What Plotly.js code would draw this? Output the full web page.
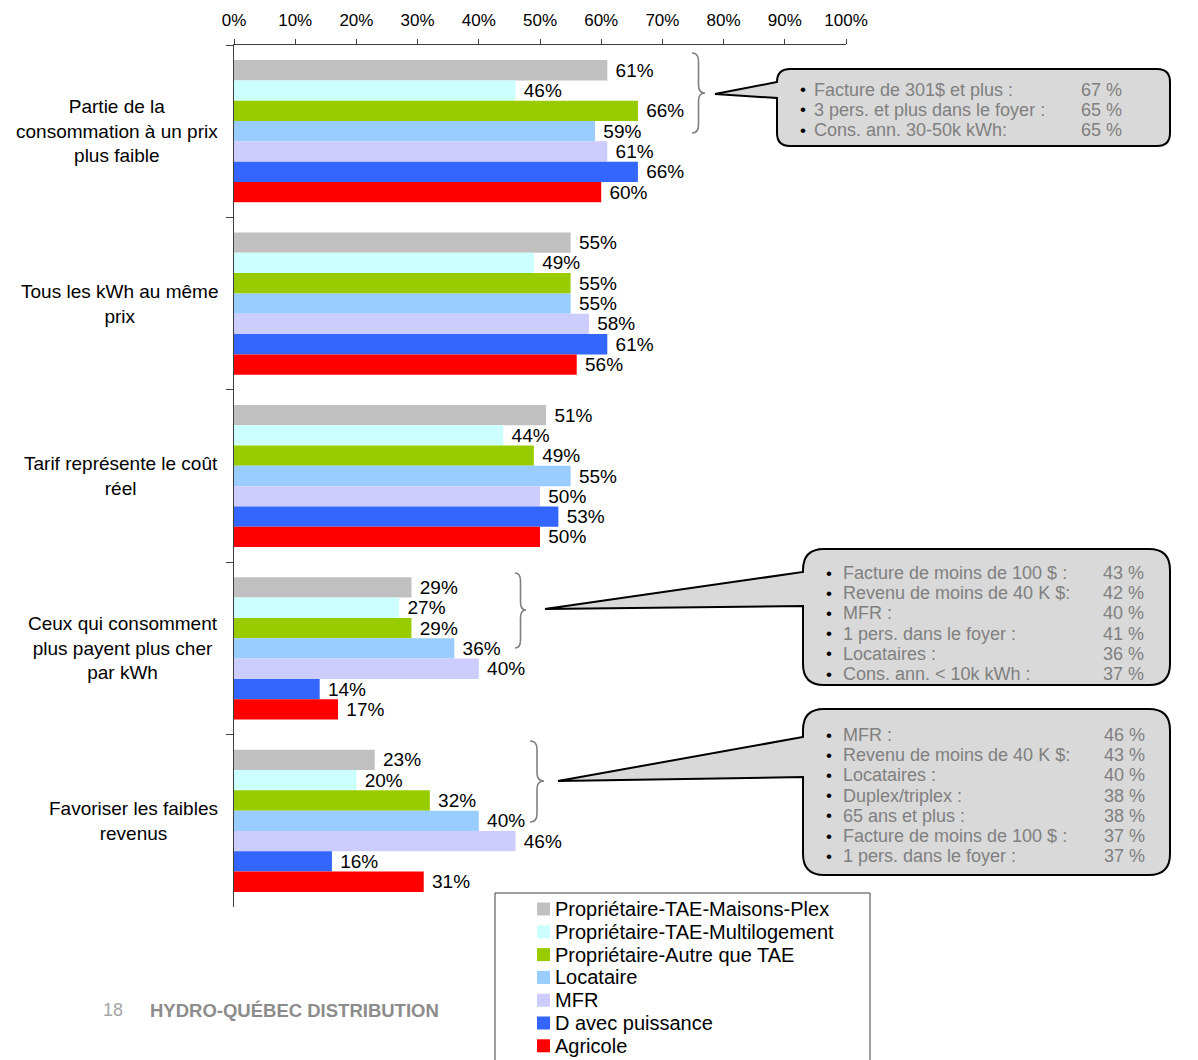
<!DOCTYPE html>
<html>
<head>
<meta charset="utf-8">
<script src="https://cdn.plot.ly/plotly-3.0.1.min.js"></script>
<style>
  html, body { margin: 0; padding: 0; background: #ffffff; }
  #chart { width: 1198px; height: 1060px; }
</style>
</head>
<body>
<div id="chart"></div>
<script>
// Survey answers, share of respondents per customer group
const categories = [
  "Partie de la consommation à un prix plus faible",
  "Tous les kWh au même prix",
  "Tarif représente le coût réel",
  "Ceux qui consomment plus payent plus cher par kWh",
  "Favoriser les faibles revenus"
];
const categoryLabels = [
  "Partie de la<br>consommation à un prix<br>plus faible",
  "Tous les kWh au même<br>prix",
  "Tarif représente le coût<br>réel",
  "Ceux qui consomment<br>plus payent plus cher<br>par kWh",
  "Favoriser les faibles<br>revenus"
];
const seriesNames = [
  "Propriétaire-TAE-Maisons-Plex",
  "Propriétaire-TAE-Multilogement",
  "Propriétaire-Autre que TAE",
  "Locataire",
  "MFR",
  "D avec puissance",
  "Agricole"
];
const maisonsPlex   = [61, 55, 51, 29, 23];
const multilogement = [46, 49, 44, 27, 20];
const autreQueTae   = [66, 55, 49, 29, 32];
const locataire     = [59, 55, 55, 36, 40];
const mfr           = [61, 58, 50, 40, 46];
const dPuissance    = [66, 61, 53, 14, 16];
const agricole      = [60, 56, 50, 17, 31];
const seriesValues = [maisonsPlex, multilogement, autreQueTae, locataire, mfr, dPuissance, agricole];
const seriesColors = ["#C0C0C0", "#CCFFFF", "#99CC00", "#99CCFF", "#CCCCFF", "#3366FF", "#FF0000"];

const xTicks = [0, 10, 20, 30, 40, 50, 60, 70, 80, 90, 100];

// Side notes: sub-groups with the highest agreement
const note1Labels = ["Facture de 301$ et plus :", "3 pers. et plus dans le foyer :", "Cons. ann. 30-50k kWh:"];
const note1Values = ["67 %", "65 %", "65 %"];
const note2Labels = ["Facture de moins de 100 $ :", "Revenu de moins de 40 K $:", "MFR :", "1 pers. dans le foyer :", "Locataires :", "Cons. ann. < 10k kWh :"];
const note2Values = ["43 %", "42 %", "40 %", "41 %", "36 %", "37 %"];
const note3Labels = ["MFR :", "Revenu de moins de 40 K $:", "Locataires :", "Duplex/triplex :", "65 ans et plus :", "Facture de moins de 100 $ :", "1 pers. dans le foyer :"];
const note3Values = ["46 %", "43 %", "40 %", "38 %", "38 %", "37 %", "37 %"];

const FONT = "Liberation Sans, Arial, sans-serif";
const W = 1198, H = 1060;
const M = { l: 234, r: 352, t: 45, b: 153, autoexpand: false };
const PW = W - M.l - M.r, PH = H - M.t - M.b;
// pixel position -> paper fraction
const px = x => (x - M.l) / PW;
const py = y => (H - M.b - y) / PH;
const pt = (x, y) => px(x).toFixed(5) + "," + py(y).toFixed(5);

const traces = seriesNames.map((name, i) => ({
  type: "bar",
  orientation: "h",
  name: name,
  y: categories,
  x: seriesValues[i],
  marker: { color: seriesColors[i], line: { width: 0 } },
  text: seriesValues[i].map(v => "\u00a0" + v + "%"),
  textposition: "outside",
  textfont: { family: FONT, size: 19, color: "#000000" },
  constraintext: "none",
  cliponaxis: false,
  hoverinfo: "skip"
}));

// curly brace opening to the right
function bracePath(x0, x1, top, mid, bottom) {
  const xm = (x0 + x1) / 2, r = 8;
  return "M" + pt(x0, top) +
    " Q" + pt(xm, top) + " " + pt(xm, top + r) +
    " L" + pt(xm, mid - r) +
    " Q" + pt(xm, mid) + " " + pt(x1, mid) +
    " Q" + pt(xm, mid) + " " + pt(xm, mid + r) +
    " L" + pt(xm, bottom - r) +
    " Q" + pt(xm, bottom) + " " + pt(x0, bottom);
}
// rounded box with a pointer leaving its left side
function calloutPath(x0, y0, x1, y1, r, ya, yb, tx, ty) {
  return "M" + pt(x0 + r, y0) +
    " L" + pt(x1 - r, y0) + " Q" + pt(x1, y0) + " " + pt(x1, y0 + r) +
    " L" + pt(x1, y1 - r) + " Q" + pt(x1, y1) + " " + pt(x1 - r, y1) +
    " L" + pt(x0 + r, y1) + " Q" + pt(x0, y1) + " " + pt(x0, y1 - r) +
    " L" + pt(x0, yb) + " L" + pt(tx, ty) + " L" + pt(x0, ya) +
    " L" + pt(x0, y0 + r) + " Q" + pt(x0, y0) + " " + pt(x0 + r, y0) + " Z";
}

const shapes = [
  { type: "path", xref: "paper", yref: "paper", path: bracePath(692, 705, 53, 93, 133), line: { color: "#808080", width: 1.6 } },
  { type: "path", xref: "paper", yref: "paper", path: bracePath(515, 526, 573, 610, 648), line: { color: "#808080", width: 1.6 } },
  { type: "path", xref: "paper", yref: "paper", path: bracePath(530, 544, 741, 781, 822), line: { color: "#808080", width: 1.6 } },
  { type: "path", xref: "paper", yref: "paper", path: calloutPath(777, 69, 1170, 146, 13, 82, 98, 715, 94), fillcolor: "#D9D9D9", line: { color: "#000000", width: 2 } },
  { type: "path", xref: "paper", yref: "paper", path: calloutPath(803, 549, 1170, 685, 21, 572, 606, 545, 609), fillcolor: "#D9D9D9", line: { color: "#000000", width: 2 } },
  { type: "path", xref: "paper", yref: "paper", path: calloutPath(803, 709, 1170, 875, 21, 737, 777, 558, 781), fillcolor: "#D9D9D9", line: { color: "#000000", width: 2 } },
  // legend frame
  { type: "rect", xref: "paper", yref: "paper", x0: px(495), x1: px(870), y0: py(893), y1: py(1064), line: { color: "#404040", width: 1 }, fillcolor: "rgba(0,0,0,0)" }
];

const annotations = [];
categories.forEach((c, i) => {
  annotations.push({
    xref: "paper", yref: "y", x: px(220), y: c, xanchor: "right", yanchor: "middle",
    text: categoryLabels[i], align: "center", showarrow: false,
    font: { family: FONT, size: 19, color: "#000000" }
  });
});

// legend entries, one swatch and name per series
seriesNames.forEach((name, i) => {
  const cy = 909 + i * 22.8;
  shapes.push({ type: "rect", xref: "paper", yref: "paper",
    x0: px(537), x1: px(550), y0: py(cy + 6.5), y1: py(cy - 6.5),
    fillcolor: seriesColors[i], line: { width: 0 } });
  annotations.push({ xref: "paper", yref: "paper", x: px(553), y: py(cy), xanchor: "left", yanchor: "middle",
    text: name, showarrow: false, font: { family: FONT, size: 20, color: "#000000" } });
});

function noteLines(labels, values, bulletX, textX, valueX, firstY, step) {
  labels.forEach((t, i) => {
    const y = py(firstY + i * step);
    annotations.push({ xref: "paper", yref: "paper", x: px(bulletX), y: y, xanchor: "center", yanchor: "middle",
      text: "•", showarrow: false, font: { family: FONT, size: 17, color: "#000000" } });
    annotations.push({ xref: "paper", yref: "paper", x: px(textX), y: y, xanchor: "left", yanchor: "middle",
      text: t, showarrow: false, font: { family: FONT, size: 18, color: "#808080" } });
    annotations.push({ xref: "paper", yref: "paper", x: px(valueX), y: y, xanchor: "right", yanchor: "middle",
      text: values[i], showarrow: false, font: { family: FONT, size: 18, color: "#808080" } });
  });
}
noteLines(note1Labels, note1Values, 803, 812, 1124, 90, 20);
noteLines(note2Labels, note2Values, 829, 841, 1146, 573, 20.2);
noteLines(note3Labels, note3Values, 829, 841, 1147, 735, 20.2);

// page footer
annotations.push({ xref: "paper", yref: "paper", x: px(101), y: py(1010), xanchor: "left", yanchor: "middle",
  text: "18", showarrow: false, font: { family: FONT, size: 18, color: "#A6A6A6" } });
annotations.push({ xref: "paper", yref: "paper", x: px(148), y: py(1010), xanchor: "left", yanchor: "middle",
  text: "<b>HYDRO-QUÉBEC DISTRIBUTION</b>", showarrow: false, font: { family: FONT, size: 18.5, color: "#8C8C8C" } });

const layout = {
  width: W, height: H,
  margin: M,
  paper_bgcolor: "#ffffff", plot_bgcolor: "#ffffff",
  font: { family: FONT, color: "#000000" },
  barmode: "group",
  bargap: 0.175,
  bargroupgap: 0,
  showlegend: false,
  xaxis: {
    side: "top", range: [0, 100], tickvals: xTicks, ticktext: xTicks.map(v => v + "%"),
    showgrid: false, zeroline: false, showline: true, linecolor: "#404040", linewidth: 1,
    ticks: "outside", ticklen: 5, tickcolor: "#404040", ticklabelstandoff: 6,
    tickfont: { family: FONT, size: 17, color: "#000000" }, fixedrange: true
  },
  yaxis: {
    type: "category", categoryorder: "array", categoryarray: categories, autorange: "reversed",
    showticklabels: false, showgrid: false, zeroline: false,
    showline: true, linecolor: "#404040", linewidth: 1,
    ticks: "outside", tickson: "boundaries", ticklen: 7, tickcolor: "#404040", fixedrange: true
  },
  shapes: shapes,
  annotations: annotations
};

Plotly.newPlot("chart", traces, layout, { staticPlot: true, displayModeBar: false });
</script>
</body>
</html>
